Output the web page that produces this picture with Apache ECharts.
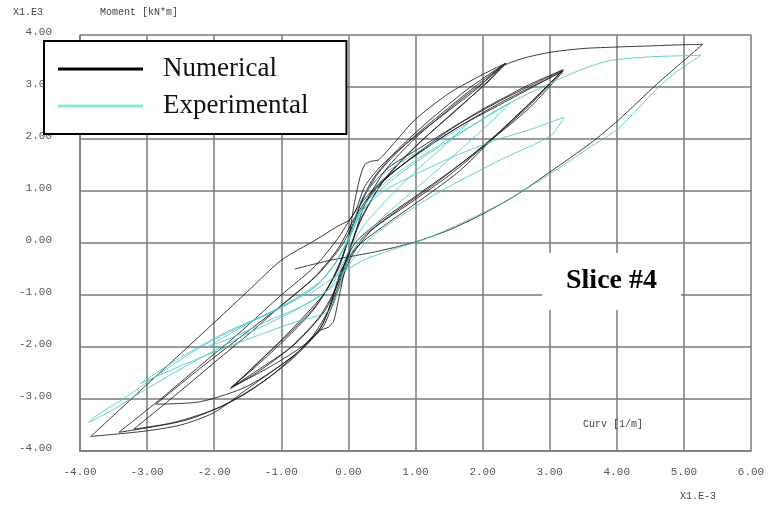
<!DOCTYPE html>
<html>
<head>
<meta charset="utf-8">
<script src="https://cdn.jsdelivr.net/npm/echarts@6/dist/echarts.min.js"></script>
<style>
html,body{margin:0;padding:0;background:#fff;}
#chart{width:768px;height:508px;}
</style>
</head>
<body>
<div id="chart"></div>
<script>
// ---- Axis ticks ----
const xTicks = [-4, -3, -2, -1, 0, 1, 2, 3, 4, 5, 6];
const yTicks = [-4, -3, -2, -1, 0, 1, 2, 3, 4];

// ---- Numerical (black) hysteresis branches: [curvature x1e-3, moment x1e3] ----
const numInitial = [[0,0],[0.08,0.7],[0.17,1.25],[0.24,1.5],[0.33,1.57],[0.45,1.6],[0.7,1.95],[1.0,2.38],[1.5,2.88],[2.0,3.24],[2.35,3.46]];
const numUnload1 = [[2.35,3.46],[2.1,3.18],[1.6,2.68],[1.0,2.02],[0.55,1.4],[0.25,0.75],[0.08,0.1],[-0.05,-0.5],[-0.15,-1.1],[-0.22,-1.5],[-0.3,-1.62],[-0.42,-1.68],[-0.7,-2.0],[-1.1,-2.33],[-1.45,-2.58],[-1.75,-2.78]];
const numReload1 = [[-1.75,-2.78],[-1.4,-2.4],[-0.9,-1.8],[-0.5,-1.25],[-0.2,-0.6],[0,0.05],[0.15,0.65],[0.35,1.2],[0.7,1.75],[1.2,2.35],[1.8,2.98],[2.35,3.46]];
const numUnload2 = [[2.35,3.46],[2.15,3.2],[1.65,2.6],[1.05,1.92],[0.55,1.25],[0.2,0.5],[0.02,-0.1],[-0.15,-0.75],[-0.35,-1.3],[-0.8,-1.95],[-1.3,-2.4],[-1.72,-2.76]];
const numReload2 = [[-1.72,-2.76],[-1.35,-2.3],[-0.85,-1.7],[-0.45,-1.15],[-0.15,-0.5],[0.02,0.15],[0.2,0.8],[0.45,1.35],[0.85,1.9],[1.35,2.45],[1.9,3.02],[2.33,3.44]];
const numUnload3 = [[2.33,3.44],[2.1,3.12],[1.55,2.5],[1.0,1.85],[0.5,1.15],[0.18,0.42],[0,-0.2],[-0.2,-0.9],[-0.45,-1.45],[-0.9,-2.05],[-1.35,-2.48],[-1.76,-2.8]];
const numReload3 = [[-1.76,-2.8],[-1.3,-2.25],[-0.8,-1.6],[-0.35,-0.95],[-0.1,-0.3],[0.05,0.3],[0.25,0.95],[0.6,1.45],[1.03,1.8],[1.5,2.18],[1.97,2.55],[2.27,2.76],[2.7,3.05],[3.2,3.33]];
const numUnload4 = [[3.2,3.33],[2.75,2.75],[2.27,2.16],[1.67,1.4],[1.1,0.85],[0.55,0.35],[0.15,-0.05],[-0.1,-0.5],[-0.25,-1.1],[-0.4,-1.6],[-0.8,-2.15],[-1.5,-2.75],[-2.2,-3.05],[-2.87,-3.1]];
const numReload4 = [[-2.87,-3.1],[-2.2,-2.4],[-1.5,-1.7],[-0.9,-1.1],[-0.45,-0.6],[-0.1,-0.05],[0.15,0.55],[0.45,1.1],[1.0,1.7],[1.6,2.25],[2.27,2.74],[2.75,3.05],[3.2,3.33]];
const numUnload5 = [[3.2,3.33],[2.8,2.8],[2.27,2.16],[1.7,1.55],[1.0,0.9],[0.45,0.4],[0.1,0],[-0.12,-0.6],[-0.3,-1.3],[-0.6,-1.9],[-1.2,-2.6],[-1.9,-3.15],[-2.6,-3.45],[-3.2,-3.58]];
const numReload5 = [[-3.2,-3.58],[-2.6,-2.95],[-2.0,-2.3],[-1.44,-1.7],[-1.0,-1.2],[-0.5,-0.65],[-0.15,-0.1],[0.1,0.5],[0.4,1.05],[0.9,1.6],[1.6,2.2],[2.27,2.7],[2.8,3.05],[3.2,3.3]];
const numUnload6 = [[3.2,3.3],[2.7,2.6],[2.0,1.85],[1.3,1.15],[0.7,0.6],[0.25,0.15],[0,-0.3],[-0.2,-1.0],[-0.45,-1.7],[-0.9,-2.3],[-1.6,-2.95],[-2.4,-3.4],[-3.42,-3.64]];
const numReload6 = [[-3.42,-3.64],[-2.8,-3.0],[-2.2,-2.35],[-1.6,-1.7],[-1.0,-1.0],[-0.5,-0.45],[-0.15,0.1],[0.15,0.7],[0.5,1.2],[1.0,1.68],[1.6,2.2],[2.2,2.62],[2.75,3.0],[3.18,3.3]];
const numUnload7 = [[3.18,3.3],[2.7,2.65],[2.1,1.95],[1.5,1.3],[0.9,0.75],[0.35,0.25],[0.05,-0.25],[-0.15,-0.9],[-0.35,-1.55],[-0.45,-1.72],[-0.8,-2.15],[-1.5,-2.8],[-2.0,-3.26],[-2.5,-3.5],[-3.05,-3.62],[-3.84,-3.72]];
const numReload7 = [[-3.84,-3.72],[-3.0,-2.72],[-2.0,-1.53],[-1.46,-0.88],[-1.0,-0.33],[-0.5,0.05],[-0.15,0.33],[0,0.43],[0.1,0.6],[0.25,1.1],[0.5,1.5],[0.9,1.95],[1.4,2.45],[1.9,2.95],[2.27,3.38],[2.6,3.55],[3.02,3.67],[3.5,3.74],[4.02,3.77],[4.5,3.79],[4.91,3.81],[5.28,3.82]];
const numUnload8 = [[5.28,3.82],[4.61,3.07],[4.02,2.36],[3.61,1.92],[3.02,1.38],[2.5,0.92],[2.02,0.57],[1.5,0.25],[0.97,0.01],[0.4,-0.17],[-0.26,-0.33],[-0.8,-0.5]];

// ---- Experimental (cyan) hysteresis branches ----
const expLoad1   = [[0,0],[0.08,0.4],[0.2,0.85],[0.4,1.2],[0.7,1.48],[1.1,1.8],[1.5,2.08],[1.78,2.3]];
const expUnload1 = [[1.78,2.3],[1.5,1.95],[1.0,1.38],[0.55,0.8],[0.22,0.32],[0.02,-0.12],[-0.12,-0.5],[-0.3,-0.9],[-0.7,-1.22],[-1.2,-1.5],[-1.7,-1.8],[-2.1,-2.0]];
const expReload1 = [[-2.1,-2.0],[-1.5,-1.55],[-0.9,-1.15],[-0.4,-0.72],[-0.15,-0.3],[0.02,0.15],[0.18,0.62],[0.45,1.05],[0.9,1.5],[1.4,1.92],[1.9,2.3],[2.42,2.7]];
const expUnload2 = [[2.42,2.7],[2.1,2.3],[1.6,1.72],[1.1,1.15],[0.6,0.6],[0.22,0.12],[0,-0.3],[-0.15,-0.9],[-0.28,-1.3],[-0.86,-1.55],[-1.5,-1.85],[-2.2,-2.2],[-3.1,-2.7]];
const expReload2 = [[-3.1,-2.7],[-2.5,-2.2],[-1.8,-1.7],[-1.1,-1.3],[-0.5,-0.85],[-0.18,-0.35],[0.02,0.12],[0.2,0.6],[0.5,0.98],[1.0,1.32],[1.6,1.68],[2.2,1.98],[2.75,2.2],[3.21,2.42]];
const expUnload3 = [[3.21,2.42],[3.02,2.07],[2.27,1.6],[1.38,1.0],[0.7,0.45],[0.25,0.0],[0.02,-0.4],[-0.25,-0.85],[-0.8,-1.3],[-1.6,-1.8],[-2.4,-2.35],[-3.0,-2.8],[-3.5,-3.2],[-3.87,-3.45]];
const expReload3 = [[-3.87,-3.45],[-3.8,-3.36],[-3.3,-2.95],[-2.8,-2.5],[-2.2,-2.0],[-1.6,-1.6],[-1.0,-1.25],[-0.5,-0.85],[-0.2,-0.4],[0,0.05],[0.2,0.6],[0.5,1.05],[1.0,1.55],[1.6,2.05],[2.27,2.6],[3.0,3.07],[3.5,3.35],[3.91,3.51],[4.5,3.58],[5.25,3.61]];
const expUnload4 = [[5.25,3.61],[4.9,3.3],[4.61,2.98],[4.02,2.2],[3.61,1.85],[2.97,1.3],[2.22,0.72],[1.23,0.12],[0.6,-0.15],[0.23,-0.33],[-0.2,-0.65],[-0.6,-1.0]];

const numericalBranches = [numInitial,numUnload1,numReload1,numUnload2,numReload2,numUnload3,numReload3,numUnload4,numReload4,numUnload5,numReload5,numUnload6,numReload6,numUnload7,numReload7,numUnload8];
const experimentalBranches = [expLoad1,expUnload1,expReload1,expUnload2,expReload2,expUnload3,expReload3,expUnload4];

function joinBranches(list){
  const out = [];
  list.forEach((b, i) => { (i === 0 ? b : b.slice(1)).forEach(p => out.push(p)); });
  return out;
}

const chart = echarts.init(document.getElementById('chart'), null, {renderer: 'canvas'});
const monoFont = 'Liberation Mono';
const gridColor = '#7a7a7a';

chart.setOption({
  animation: false,
  backgroundColor: '#ffffff',
  grid: {left: 80, right: 17, top: 35, bottom: 57, show: false},
  xAxis: {
    type: 'value', min: -4, max: 6, interval: 1,
    axisLine: {show: true, onZero: false, lineStyle: {color: gridColor, width: 1.5}},
    axisTick: {show: false},
    splitLine: {show: true, lineStyle: {color: gridColor, width: 1.5}},
    axisLabel: {margin: 16, color: '#555', fontFamily: monoFont, fontSize: 11,
      formatter: v => v.toFixed(2)}
  },
  yAxis: {
    type: 'value', min: -4, max: 4, interval: 1,
    axisLine: {show: true, onZero: false, lineStyle: {color: gridColor, width: 1.5}},
    axisTick: {show: false},
    splitLine: {show: true, lineStyle: {color: gridColor, width: 1.5}},
    axisLabel: {margin: 28, color: '#555', fontFamily: monoFont, fontSize: 11,
      verticalAlign: 'bottom', lineHeight: 5, formatter: v => v.toFixed(2)}
  },
  legend: {
    orient: 'vertical', left: 44, top: 41,
    backgroundColor: '#ffffff', borderColor: '#000', borderWidth: 2,
    padding: [13, 38, 13, 14],
    itemWidth: 85, itemHeight: 3, itemGap: 7, icon: 'rect',
    textStyle: {fontFamily: 'Liberation Serif', fontSize: 27, color: '#111', lineHeight: 30, padding: [0, 0, 0, 15]},
    data: [
      {name: 'Numerical', itemStyle: {color: '#000'}},
      {name: 'Experimental', itemStyle: {color: '#8ae8d6'}}
    ]
  },
  title: {
    text: 'Slice #4', left: 542, top: 253,
    backgroundColor: '#ffffff', padding: [13, 24, 14, 24],
    textStyle: {fontFamily: 'Liberation Serif', fontWeight: 'bold', fontSize: 28, color: '#000', lineHeight: 30}
  },
  graphic: [
    {type: 'text', left: 13, top: 7, style: {text: 'X1.E3', fontFamily: monoFont, fontSize: 10, fill: '#444'}},
    {type: 'text', left: 100, top: 7, style: {text: 'Moment [kN*m]', fontFamily: monoFont, fontSize: 10, fill: '#444'}},
    {type: 'text', left: 583, top: 419, z: 10, style: {text: 'Curv [1/m]', fontFamily: monoFont, fontSize: 10, fill: '#444'}},
    {type: 'text', left: 680, top: 491, style: {text: 'X1.E-3', fontFamily: monoFont, fontSize: 10, fill: '#444'}}
  ],
  series: [
    {
      name: 'Numerical', type: 'line', showSymbol: false, smooth: 0.25, z: 3,
      lineStyle: {color: '#1a1a1a', width: 1, opacity: 0.85},
      itemStyle: {color: '#000'},
      data: joinBranches(numericalBranches)
    },
    {
      name: 'Experimental', type: 'line', showSymbol: false, smooth: 0.25, z: 4,
      lineStyle: {color: '#4cc6c6', width: 1, opacity: 0.85},
      itemStyle: {color: '#8ae8d6'},
      data: joinBranches(experimentalBranches)
    }
  ]
});
</script>
</body>
</html>
